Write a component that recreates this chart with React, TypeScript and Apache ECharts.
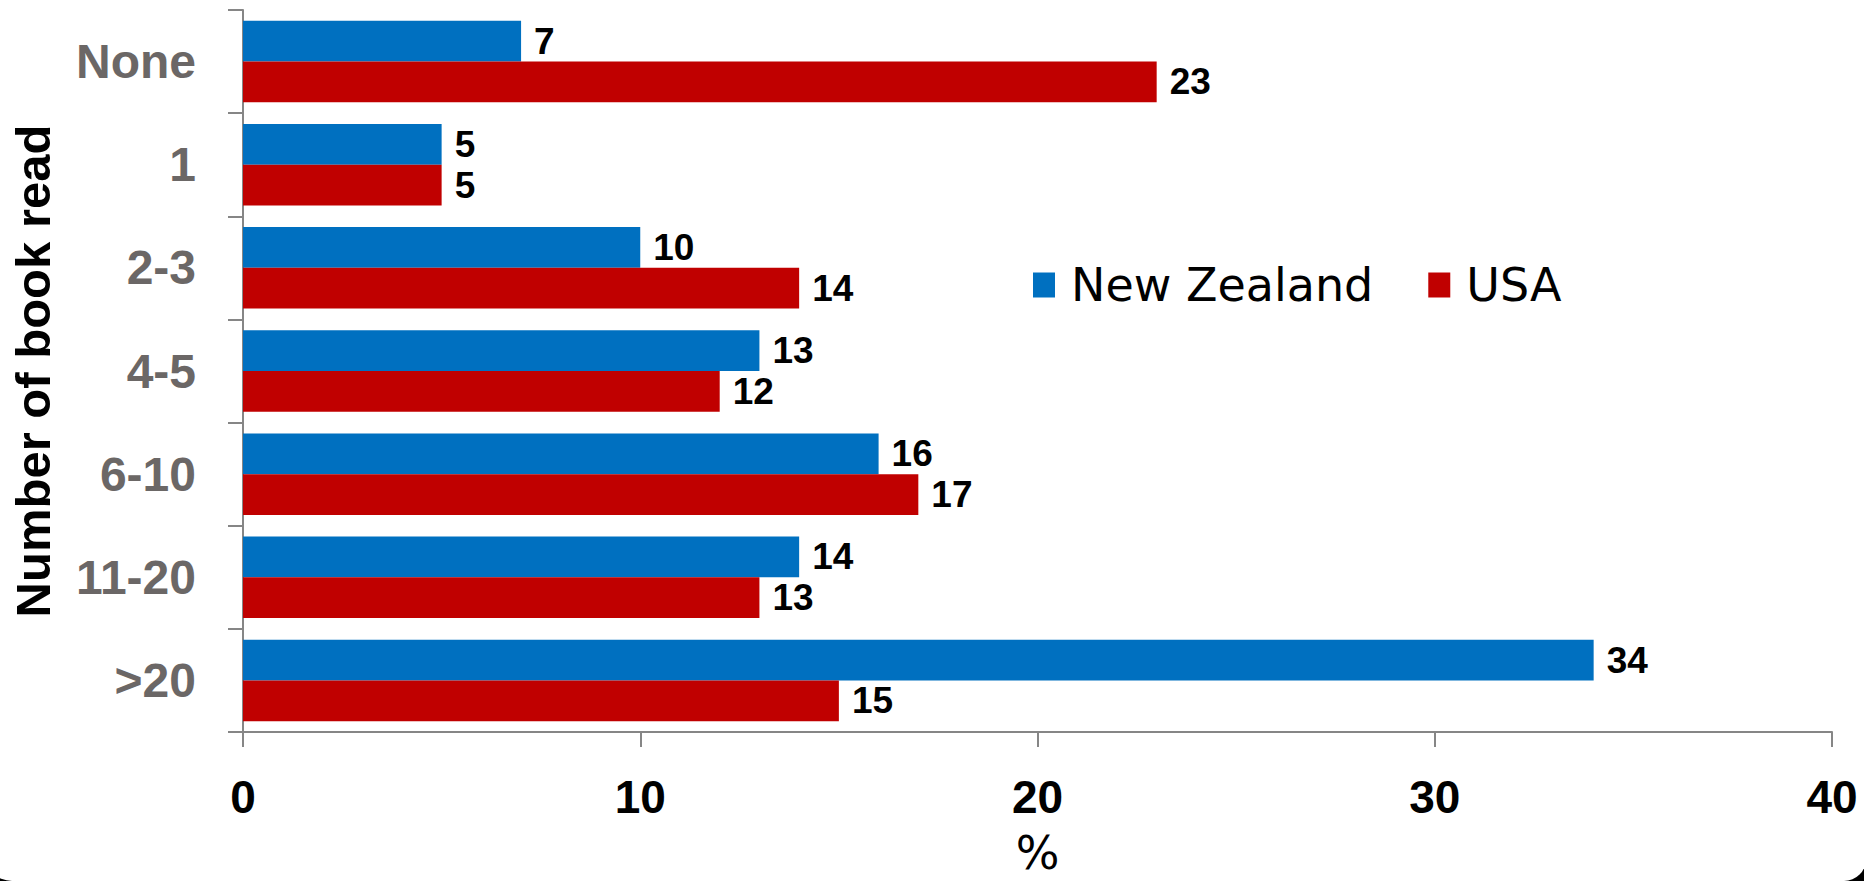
import React, { useEffect, useRef } from "react";
import * as echarts from "echarts";

const categories = ["None", "1", "2-3", "4-5", "6-10", "11-20", ">20"];
const newZealand = [7, 5, 10, 13, 16, 14, 34];
const usa = [23, 5, 14, 12, 17, 13, 15];
const xTicks = { min: 0, max: 40, interval: 10 };

export default function App() {
  const ref = useRef<HTMLDivElement>(null);
  useEffect(() => {
    document.body.style.margin = "0";
    const chart = echarts.init(ref.current!, null, { renderer: "svg" });
    const labelStyle = {
      show: true,
      position: "right" as const,
      distance: 13,
      fontFamily: "Liberation Sans",
      fontWeight: "bold" as const,
      fontSize: 37,
      color: "#000",
    };
    chart.setOption({
      animation: false,
      backgroundColor: "transparent",
      legend: {
        left: 1028,
        top: 255,
        icon: "rect",
        itemWidth: 22,
        itemHeight: 25,
        itemGap: 55,
        textStyle: {
          fontFamily: "DejaVu Sans",
          fontSize: 46,
          color: "#000",
          padding: [0, 0, 0, 11],
          lineHeight: 50,
        },
        data: ["New Zealand", "USA"],
      },
      grid: { left: 240, right: 32, top: 10, bottom: 142, containLabel: false },
      xAxis: {
        type: "value",
        min: xTicks.min,
        max: xTicks.max,
        interval: xTicks.interval,
        name: "%",
        nameLocation: "middle",
        nameGap: 98,
        nameTextStyle: { fontFamily: "DejaVu Sans", fontSize: 46, color: "#000" },
        axisLine: { show: true, lineStyle: { color: "#868686", width: 2 } },
        axisTick: { show: true, length: 15, lineStyle: { color: "#868686", width: 2 } },
        splitLine: { show: false },
        axisLabel: {
          margin: 42,
          fontFamily: "Liberation Sans",
          fontWeight: "bold",
          fontSize: 46,
          color: "#000",
        },
      },
      yAxis: {
        type: "category",
        data: categories,
        inverse: true,
        name: "Number of book read",
        nameLocation: "middle",
        nameGap: 186,
        nameRotate: 90,
        nameTextStyle: {
          fontFamily: "Liberation Sans",
          fontWeight: "bold",
          fontSize: 49,
          color: "#000",
        },
        axisLine: { show: true, lineStyle: { color: "#868686", width: 2 } },
        axisTick: { show: true, length: 15, lineStyle: { color: "#868686", width: 2 } },
        axisLabel: {
          margin: 47,
          fontFamily: "Liberation Sans",
          fontWeight: "bold",
          fontSize: 48,
          color: "#6b6766",
        },
      },
      series: [
        {
          name: "New Zealand",
          type: "bar",
          data: newZealand,
          barGap: "0%",
          barCategoryGap: "21%",
          itemStyle: { color: "#0070C0" },
          label: labelStyle,
        },
        {
          name: "USA",
          type: "bar",
          data: usa,
          barGap: "0%",
          barCategoryGap: "21%",
          itemStyle: { color: "#C00000" },
          label: labelStyle,
        },
      ],
    });
    return () => chart.dispose();
  }, []);
  return (
    <div
      style={{
        position: "fixed",
        left: 0,
        top: 0,
        width: 1864,
        height: 881,
        background: "#000",
        overflow: "hidden",
      }}
    >
      <div
        style={{
          position: "absolute",
          left: -16,
          top: -40,
          width: 1864 + 16 + 2,
          height: 881 + 40,
          background: "#fff",
          borderBottomLeftRadius: 28,
          borderBottomRightRadius: 22,
        }}
      />
      <div ref={ref} style={{ position: "absolute", left: 0, top: 0, width: 1864, height: 881 }} />
    </div>
  );
}
